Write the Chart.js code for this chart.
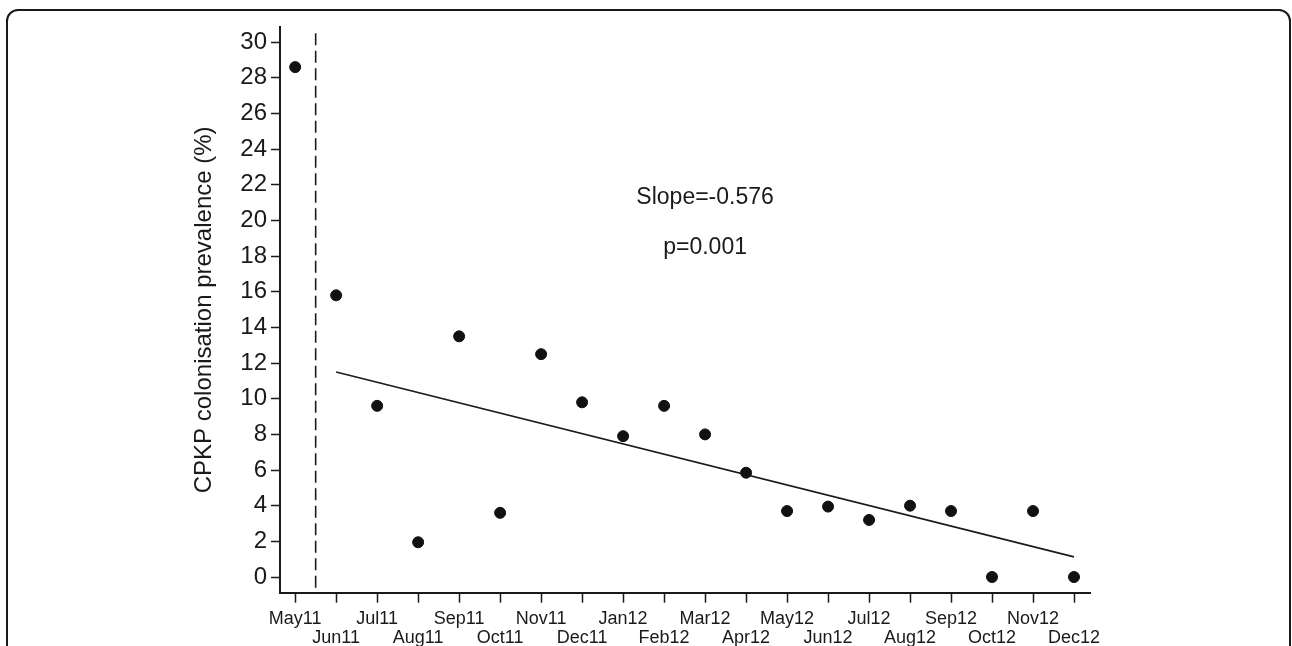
<!DOCTYPE html>
<html><head><meta charset="utf-8">
<script src="https://cdn.jsdelivr.net/npm/chart.js@4"></script>
<style>
html,body{margin:0;padding:0;background:#fff;overflow:hidden;}
#wrap{position:relative;width:1292px;height:646px;}
#frame{position:absolute;left:6px;top:9px;width:1285px;height:700px;border:2px solid #1a1a1a;border-radius:12px;box-sizing:border-box;pointer-events:none;}
canvas{position:absolute;left:0;top:0;}
</style></head><body>
<div id="wrap"><canvas id="c" width="1292" height="646"></canvas><div id="frame"></div></div>
<script>
// ---- data ----
const months = ['May11','Jun11','Jul11','Aug11','Sep11','Oct11','Nov11','Dec11','Jan12','Feb12',
                'Mar12','Apr12','May12','Jun12','Jul12','Aug12','Sep12','Oct12','Nov12','Dec12'];
const prevalence = [28.6, 15.8, 9.6, 1.95, 13.5, 3.6, 12.5, 9.8, 7.9, 9.6,
                    8.0, 5.85, 3.7, 3.95, 3.2, 4.0, 3.7, 0, 3.7, 0];
const yTickValues = [0,2,4,6,8,10,12,14,16,18,20,22,24,26,28,30];
const trendMonths = ['Jun11','Dec12'];
const trendValues = [11.5, 1.13];
const interventionBetween = ['May11','Jun11'];
const interventionTop = 30.5;
const annotationTexts = ['Slope=-0.576','p=0.001'];
const yTitle = 'CPKP colonisation prevalence (%)';

// ---- chart ----
const X_MIN = -0.37, X_MAX = 19.39, Y_MIN = -0.88, Y_MAX = 30.85;
const idx = m => months.indexOf(m);
const pointData = prevalence.map((v,i)=>({x:i,y:v}));
const trendData = trendMonths.map((m,i)=>({x:idx(m),y:trendValues[i]}));
const interX = (idx(interventionBetween[0]) + idx(interventionBetween[1]))/2;
const dashData = [{x:interX,y:interventionTop},{x:interX,y:Y_MIN}];

Chart.defaults.font.family = '"Liberation Sans", Arial, sans-serif';
Chart.defaults.color = '#1a1a1a';

const annotationPlugin = {
  id:'annot',
  afterDatasetsDraw(chart){
    const {ctx, scales:{x,y}} = chart;
    const pos = [{m:'Mar12',v:21.3},{m:'Mar12',v:18.5}];
    ctx.save();
    ctx.fillStyle = '#1a1a1a';
    ctx.font = '23px "Liberation Sans", Arial, sans-serif';
    ctx.textAlign = 'center';
    ctx.textBaseline = 'middle';
    annotationTexts.forEach((t,i)=>{
      ctx.fillText(t, x.getPixelForValue(idx(pos[i].m)), y.getPixelForValue(pos[i].v));
    });
    ctx.restore();
  }
};

new Chart(document.getElementById('c'), {
  type:'scatter',
  data:{datasets:[
    {label:'prevalence', data:pointData, backgroundColor:'#111', borderColor:'#111',
     pointRadius:5.5, pointHoverRadius:5.5, showLine:false, order:1},
    {label:'trend', type:'line', data:trendData, borderColor:'#1a1a1a', borderWidth:1.6,
     pointRadius:0, fill:false, tension:0, order:2},
    {label:'intervention', type:'line', data:dashData, borderColor:'#1a1a1a', borderWidth:1.6,
     borderDash:[12,5.5], pointRadius:0, fill:false, order:3}
  ]},
  options:{
    responsive:false, animation:false, devicePixelRatio:1,
    layout:{padding:{left:180, top:27, right:202, bottom:0}},
    plugins:{legend:{display:false}, tooltip:{enabled:false}},
    scales:{
      x:{type:'linear', min:X_MIN, max:X_MAX,
        afterBuildTicks(s){ s.ticks = months.map((_,i)=>({value:i})); },
        afterFit(s){ s.height = 53.3; },
        grid:{drawOnChartArea:false, drawTicks:true, tickLength:10, tickColor:'#1a1a1a', tickWidth:1.5},
        border:{display:true, color:'#1a1a1a', width:2},
        ticks:{autoSkip:false, maxRotation:0, minRotation:0, padding:6,
          font:{size:18, lineHeight:1.1}, color:'#1a1a1a',
          callback(v){ const i=Math.round(v); return i%2===0 ? [months[i],''] : ['',months[i]]; }}
      },
      y:{type:'linear', min:Y_MIN, max:Y_MAX,
        afterBuildTicks(s){ s.ticks = yTickValues.map(v=>({value:v})); },
        afterFit(s){ s.width = 100; },
        grid:{drawOnChartArea:false, drawTicks:true, tickLength:9, tickColor:'#1a1a1a', tickWidth:1.5},
        border:{display:true, color:'#1a1a1a', width:2},
        ticks:{padding:4, font:{size:24}, color:'#1a1a1a', callback(v){return String(v);}},
        title:{display:true, text:yTitle, font:{size:24}, color:'#1a1a1a', padding:{top:10,bottom:0}}
      }
    }
  },
  plugins:[annotationPlugin]
});
</script>
</body></html>
